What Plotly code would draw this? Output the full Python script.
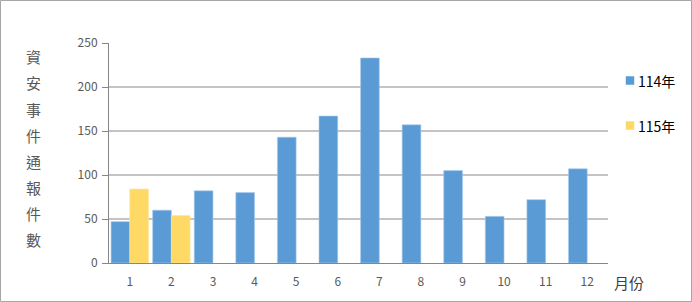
import plotly.graph_objects as go

months = [str(i) for i in range(1, 13)]
y114 = [47, 60, 82, 80, 143, 167, 233, 157, 105, 53, 72, 107]
months115 = ["1", "2"]
y115 = [84, 54]
series_names = ["114年", "115年"]
series_colors = ["#5b9bd5", "#ffd966"]
y_title_chars = list("資安事件通報件數")
x_title = "月份"

W, H = 692, 302
L, R, T, B = 109, 84, 43, 39
pw, ph = W - L - R, H - T - B


def px(xp):
    return (xp - L) / pw


def py(yp):
    return (H - B - yp) / ph


fig = go.Figure()
fig.add_trace(go.Bar(x=months, y=y114, name=series_names[0],
                     marker=dict(color=series_colors[0], line=dict(color="#a9c9ea", width=0.6))))
fig.add_trace(go.Bar(x=months115, y=y115, name=series_names[1],
                     marker=dict(color=series_colors[1], line=dict(color="#ffe699", width=0.6))))

fig.update_layout(
    width=W, height=H,
    margin=dict(l=L, r=R, t=T, b=B, pad=0, autoexpand=False),
    paper_bgcolor="white", plot_bgcolor="white",
    barmode="group", bargap=0.1, bargroupgap=0,
    font=dict(family="Noto Sans CJK TC, Liberation Sans", color="#595959"),
    xaxis=dict(categoryorder="array", categoryarray=months, showgrid=False,
               showline=True, linecolor="#868686", linewidth=1,
               tickfont=dict(size=12, color="#595959"), ticks="", ticklabelstandoff=8),
    yaxis=dict(range=[0, 250], tickvals=[0, 50, 100, 150, 200, 250], showgrid=True,
               gridcolor="#c4c4c4", gridwidth=2, showline=True, linecolor="#868686",
               linewidth=1, zeroline=False, ticks="outside", ticklen=6, tickcolor="#868686",
               tickfont=dict(size=12, color="#595959"), ticklabelstandoff=2),
    showlegend=False,
)

# manual legend
leg_y = [80.5, 125.5]
for name, col, yc in zip(series_names, series_colors, leg_y):
    fig.add_shape(type="rect", xref="paper", yref="paper",
                  x0=px(626), x1=px(634), y0=py(yc + 4), y1=py(yc - 4),
                  line=dict(color=col, width=0.5), fillcolor=col)
    fig.add_annotation(text=name, xref="paper", yref="paper",
                       x=px(636), y=py(yc), showarrow=False,
                       font=dict(size=14, color="#000000"),
                       xanchor="left", yanchor="middle")

step = 26
top_c = 57
for i, ch in enumerate(y_title_chars):
    yc = top_c + i * step
    fig.add_annotation(text=ch, xref="paper", yref="paper",
                       x=px(33), y=py(yc), showarrow=False,
                       font=dict(size=15, color="#595959"),
                       xanchor="center", yanchor="middle")
fig.add_annotation(text=x_title, xref="paper", yref="paper",
                   x=px(629), y=py(282), showarrow=False,
                   font=dict(size=15, color="#404040"), xanchor="center", yanchor="middle")

fig.add_shape(type="rect", xref="paper", yref="paper",
              x0=px(0.5), x1=px(691.5), y0=py(301.5), y1=py(0.5),
              line=dict(color="#a6a6a6", width=1), fillcolor="rgba(0,0,0,0)", layer="below")

fig.write_html("out.html")
